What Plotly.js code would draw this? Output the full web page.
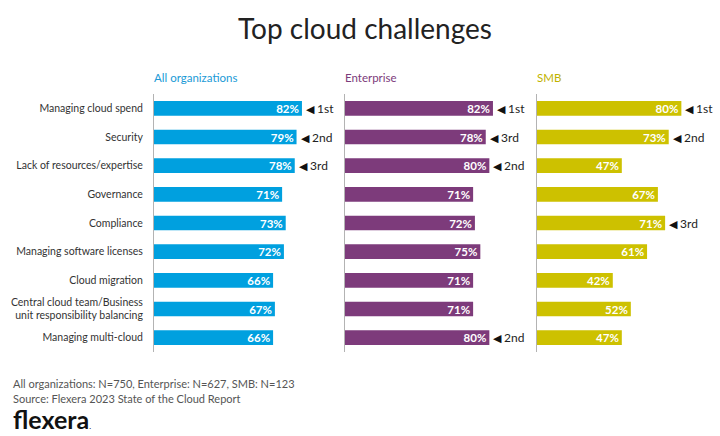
<!DOCTYPE html>
<html><head><meta charset="utf-8">
<script src="https://cdn.plot.ly/plotly-3.0.1.min.js"></script>
<style>body{margin:0;padding:0;background:#fff}#chart{width:720px;height:436px}</style>
</head><body><div id="chart"></div>
<script>
const categories = ["Managing cloud spend","Security","Lack of resources/expertise","Governance","Compliance","Managing software licenses","Cloud migration","Central cloud team/Business<br>unit responsibility balancing","Managing multi-cloud"];
const allOrgs = [82,79,78,71,73,72,66,67,66];
const enterprise = [82,78,80,71,72,75,71,71,80];
const smb = [80,73,47,67,71,61,42,52,47];
const allRank = ["1st","2nd","3rd","","","","","",""];
const entRank = ["1st","3rd","2nd","","","","","","2nd"];
const smbRank = ["1st","2nd","","","3rd","","","",""];
const panelNames = ["All organizations","Enterprise","SMB"];
const colors = ["#00a0df","#7d3b7b","#cdc100"];
const titleColors = ["#1a9ad6","#7d3b7b","#bfb300"];

const W=720,H=436;
const FONT = "Lato, 'Source Sans Pro', sans-serif";
const xStarts=[154,345,537], xw=162.4;
const yTop=94, yBot=352;
const series=[allOrgs,enterprise,smb], ranks=[allRank,entRank,smbRank];
const traces=[], annotations=[];
const layout={width:W,height:H,margin:{l:0,r:0,t:0,b:0},paper_bgcolor:"#fff",plot_bgcolor:"rgba(0,0,0,0)",showlegend:false,bargap:0.49,annotations:annotations,font:{family:FONT}};
series.forEach((vals,i)=>{
  const xa = i===0?"x":"x"+(i+1), ya = i===0?"y":"y"+(i+1);
  traces.push({type:"bar",orientation:"h",x:vals,y:categories,xaxis:xa,yaxis:ya,
    marker:{color:colors[i]},text:vals.map(v=>v+"%"),textposition:"inside",insidetextanchor:"end",constraintext:"none",
    textfont:{color:"#fff",size:11.5,family:FONT,weight:"bold"},cliponaxis:false,hoverinfo:"skip",textangle:0});
  layout[i===0?"xaxis":"xaxis"+(i+1)]={domain:[xStarts[i]/W,(xStarts[i]+xw)/W],range:[0,90],visible:false,anchor:ya,fixedrange:true};
  layout[i===0?"yaxis":"yaxis"+(i+1)]={domain:[(H-yBot)/H,(H-yTop)/H],type:"category",categoryarray:categories,range:[8.5,-0.5],
    anchor:xa,showline:true,linecolor:"#b3b3b3",linewidth:1,showgrid:false,zeroline:false,
    showticklabels:i===0,ticks:"",ticklabelstandoff:8,tickfont:{size:10.5,color:"#333",family:FONT},fixedrange:true};
  annotations.push({xref:"paper",yref:"paper",x:(xStarts[i]-2)/W,y:(H-77)/H,xanchor:"left",yanchor:"middle",showarrow:false,
    text:panelNames[i],font:{size:11.5,color:titleColors[i],family:FONT}});
  ranks[i].forEach((r,j)=>{ if(!r) return;
    annotations.push({xref:xa,yref:ya,x:vals[j],y:categories[j],xanchor:"left",yanchor:"middle",xshift:2,showarrow:false,
      text:"<span style='font-size:11px;color:#111'>◀</span> "+r,font:{size:12,color:"#222",family:FONT}});
  });
});
annotations.push({xref:"paper",yref:"paper",x:365/W,y:(H-28)/H,xanchor:"center",yanchor:"middle",showarrow:false,
  text:"Top cloud challenges",font:{size:28,color:"#222",family:FONT}});
annotations.push({xref:"paper",yref:"paper",x:11/W,y:(H-383)/H,xanchor:"left",yanchor:"middle",showarrow:false,
  text:"All organizations: N=750, Enterprise: N=627, SMB: N=123",font:{size:11,color:"#555",family:FONT}});
annotations.push({xref:"paper",yref:"paper",x:11/W,y:(H-398)/H,xanchor:"left",yanchor:"middle",showarrow:false,
  text:"Source: Flexera 2023 State of the Cloud Report",font:{size:11,color:"#555",family:FONT}});
annotations.push({xref:"paper",yref:"paper",x:11/W,y:(H-419)/H,xanchor:"left",yanchor:"middle",showarrow:false,
  text:"<b>flexera</b><span style='font-size:8px'>.</span>",font:{size:25,color:"#111",family:FONT}});
Plotly.newPlot("chart",traces,layout,{displayModeBar:false,staticPlot:true});
</script></body></html>
